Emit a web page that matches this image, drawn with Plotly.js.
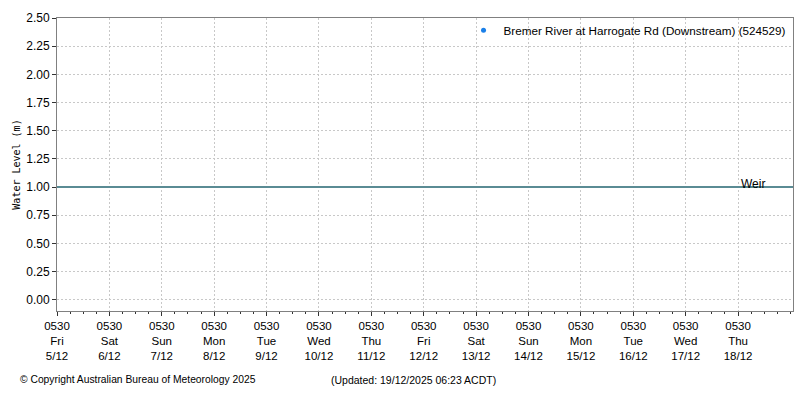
<!DOCTYPE html>
<html>
<head>
<meta charset="utf-8">
<script src="https://cdn.plot.ly/plotly-3.0.1.min.js"></script>
<style>
  body { margin: 0; background: #fff; }
  #chart { width: 800px; height: 400px; }
</style>
</head>
<body>
<div id="chart"></div>
<script>
// station series (no readings in the window, one missing value)
const stationName = 'Bremer River at Harrogate Rd (Downstream) (524529)';
const obsTimes = [null];
const obsLevels = [null];

// reference level
const weirLevel = 1.00;
const weirLabel = 'Weir';

// x axis: one tick per day at 0530
const tickDates = ['2025-12-05', '2025-12-06', '2025-12-07', '2025-12-08', '2025-12-09',
  '2025-12-10', '2025-12-11', '2025-12-12', '2025-12-13', '2025-12-14',
  '2025-12-15', '2025-12-16', '2025-12-17', '2025-12-18'];
const tickDays = ['Fri', 'Sat', 'Sun', 'Mon', 'Tue', 'Wed', 'Thu',
  'Fri', 'Sat', 'Sun', 'Mon', 'Tue', 'Wed', 'Thu'];
const tickDayMonth = ['5/12', '6/12', '7/12', '8/12', '9/12', '10/12', '11/12',
  '12/12', '13/12', '14/12', '15/12', '16/12', '17/12', '18/12'];
const tickTime = '0530';

const xStart = '2025-12-05 05:30';
const xEnd = '2025-12-19 06:40';

const copyrightText = '© Copyright Australian Bureau of Meteorology 2025';
const updatedText = '(Updated: 19/12/2025 06:23 ACDT)';

const font = 'Liberation Sans, Arial, sans-serif';

const tickvals = tickDates.map(d => d + ' 05:30');
const ticktext = tickDates.map((d, i) => tickTime + '<br>' + tickDays[i] + '<br>' + tickDayMonth[i]);

const traces = [{
  x: obsTimes,
  y: obsLevels,
  type: 'scatter',
  mode: 'markers',
  name: stationName,
  showlegend: true,
  marker: {color: '#1a7fe8', size: 5}
}];

const layout = {
  width: 800,
  height: 400,
  margin: {l: 57, r: 7, t: 18, b: 89},
  paper_bgcolor: '#ffffff',
  plot_bgcolor: '#ffffff',
  font: {family: font, size: 12, color: '#000'},
  showlegend: true,
  legend: {
    x: 0.998, xanchor: 'right', y: 1.008, yanchor: 'top',
    bgcolor: 'rgba(0,0,0,0)',
    font: {family: font, size: 11.7, color: '#000'},
    itemwidth: 10
  },
  xaxis: {
    type: 'date',
    range: [xStart, xEnd],
    tickmode: 'array',
    tickvals: tickvals,
    ticktext: ticktext,
    tickfont: {family: font, size: 11.5},
    ticks: 'outside', ticklen: 4, tickcolor: '#333',
    showgrid: true, gridcolor: '#c8c8c8', griddash: '2px,2px',
    minor: {dtick: 6 * 3600 * 1000, tick0: xStart, ticks: 'outside', ticklen: 2, tickcolor: '#333', showgrid: false},
    showline: true, linecolor: '#808080', linewidth: 1, mirror: true,
    zeroline: false
  },
  yaxis: {
    range: [-0.1, 2.5],
    tickmode: 'linear', tick0: 0, dtick: 0.25,
    tickformat: '.2f',
    tickfont: {family: font, size: 12},
    ticks: 'outside', ticklen: 4, tickcolor: '#333',
    showgrid: true, gridcolor: '#c8c8c8', griddash: '2px,2px',
    showline: true, linecolor: '#808080', linewidth: 1, mirror: true,
    zeroline: false,
    title: {text: 'Water Level (m)', font: {family: 'DejaVu Sans Mono, monospace', size: 10}, standoff: 3}
  },
  shapes: [{
    type: 'line', xref: 'paper', x0: 0, x1: 1, yref: 'y', y0: weirLevel, y1: weirLevel,
    line: {color: '#5a8b94', width: 2}
  }],
  annotations: [
    {xref: 'x', yref: 'y', x: '2025-12-18 06:00', y: weirLevel, text: weirLabel,
     xanchor: 'left', yanchor: 'bottom', showarrow: false, yshift: -6,
     font: {family: font, size: 12, color: '#000'}},
    {xref: 'paper', yref: 'paper', x: -57 / 736 + 18 / 736, y: -0.235, text: copyrightText,
     xanchor: 'left', yanchor: 'middle', showarrow: false,
     font: {family: font, size: 10.3, color: '#000'}},
    {xref: 'paper', yref: 'paper', x: (329 - 57) / 736, y: -0.235, text: updatedText,
     xanchor: 'left', yanchor: 'middle', showarrow: false,
     font: {family: font, size: 10.5, color: '#000'}}
  ]
};

Plotly.newPlot('chart', traces, layout, {displayModeBar: false, staticPlot: true});
</script>
</body>
</html>
